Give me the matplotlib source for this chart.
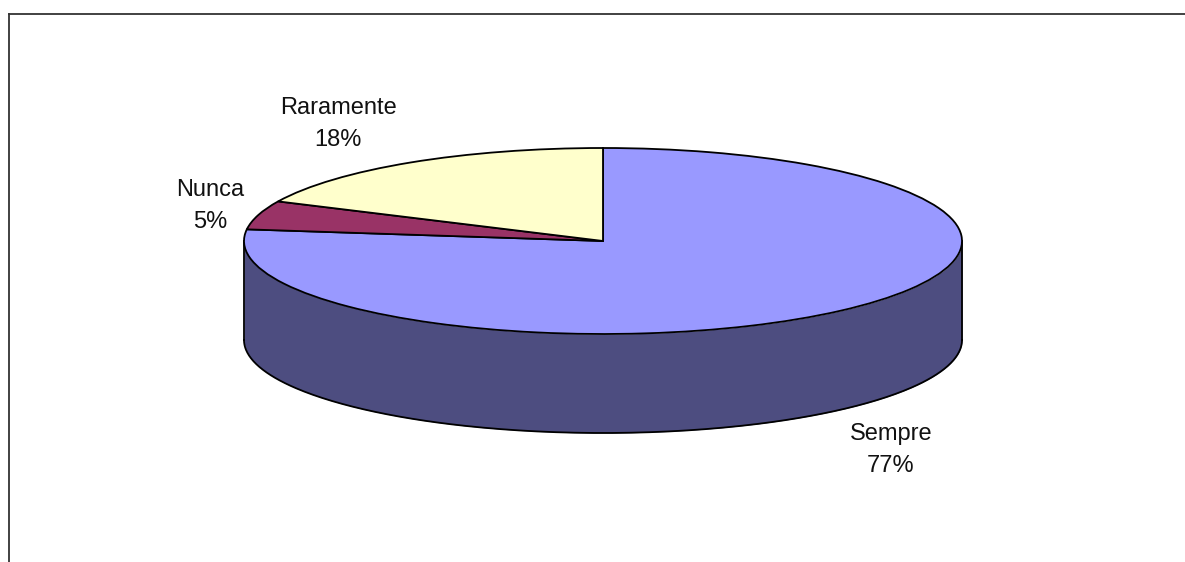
import numpy as np
import matplotlib
matplotlib.use("Agg")
import matplotlib.pyplot as plt
from matplotlib.lines import Line2D

plt.rcParams['font.family'] = ['Liberation Sans', 'DejaVu Sans']

categories = ["Sempre", "Nunca", "Raramente"]
values = [77, 5, 18]
top_colors = ["#9999FF", "#993366", "#FFFFCC"]
side_color = "#4D4D80"

W, H = 1185, 562
CX, CY, RX, RY, DEPTH = 603, 241, 359, 93, 99
# label centres in pixels, one per category
label_pos = [(891, 450), (210, 206), (338, 124)]


def main():
    fig = plt.figure(figsize=(W/100, H/100), dpi=100, facecolor="white")
    ax = fig.add_axes([0, 0, 1, 1])

    # the unit pie is squashed into an ellipse by the axis limits
    ax.pie(values, colors=top_colors, startangle=90, counterclock=False,
           wedgeprops=dict(edgecolor="black", linewidth=1.3, zorder=3))
    ax.set_aspect('auto')
    ax.set_xlim(-CX/RX, (W-CX)/RX)
    ax.set_ylim((CY-H)/RY, CY/RY)

    # side wall of the disc, only the front half shows
    t = np.linspace(np.pi, 2*np.pi, 300)
    drop = DEPTH/RY
    xs = np.cos(t)
    ys = np.sin(t)
    ax.fill_between(xs, ys-drop, ys, color=side_color, lw=0, zorder=1)
    ax.plot(xs, ys-drop, color="black", lw=1.3, zorder=2)
    ax.plot([-1, -1], [0, -drop], color="black", lw=1.3, zorder=2)
    ax.plot([1, 1], [0, -drop], color="black", lw=1.3, zorder=2)

    for name, val, (px, py) in zip(categories, values, label_pos):
        fig.text(px/W, 1-py/H, "%s\n%d%%" % (name, val), ha="center", va="center",
                 fontsize=17, linespacing=1.55, color="#111111")

    # outer border, open at the bottom and on the right
    for xx, yy in [([9, 9], [14, H]), ([9, W], [14, 14])]:
        fig.add_artist(Line2D(np.array(xx)/W, 1-np.array(yy)/H, color="#333333", lw=1.3))

    fig.savefig("out.png", dpi=100)
    plt.close(fig)


if __name__ == "__main__":
    main()
